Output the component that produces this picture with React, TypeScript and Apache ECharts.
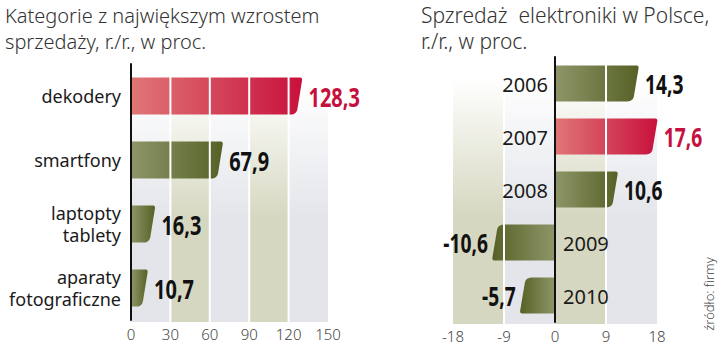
import React, { useEffect, useRef } from "react";
import * as echarts from "echarts";

// ---------- data ----------
const leftTitle = "Kategorie z największym wzrostem\nsprzedaży, r./r., w proc.";
const leftCategories = ["dekodery", "smartfony", "laptopty\ntablety", "aparaty\nfotograficzne"];
const leftValues = [128.3, 67.9, 16.3, 10.7];
const leftHighlight = [true, false, false, false];
const leftTicks = [0, 30, 60, 90, 120, 150];

const rightTitle = "Spzredaż  elektroniki w Polsce,\nr./r., w proc.";
const rightCategories = ["2006", "2007", "2008", "2009", "2010"];
const rightValues = [14.3, 17.6, 10.6, -10.6, -5.7];
const rightHighlight = [false, true, false, false, false];
const rightTicks = [-18, -9, 0, 9, 18];

const sourceText = "źródło: firmy";

// ---------- styles ----------
const LIGHT_BAND = "#e3e5ea";
const BEIGE_BAND = "#d6d7c0";
const leftBandColors = [LIGHT_BAND, BEIGE_BAND];
const rightBandColors = [BEIGE_BAND, LIGHT_BAND];
const RED_TEXT = "#c50f3d";
const SANS = "'Noto Sans', 'Open Sans', sans-serif";
const BOLD = "'Noto Sans', 'Roboto', sans-serif";

const fmt = (v: number) => v.toFixed(1).replace(".", ",");

function roundedPolygon(pts: number[][], radii: number[]) {
  const out: number[][] = [];
  const n = pts.length;
  for (let i = 0; i < n; i++) {
    const r = radii[i];
    const C = pts[i];
    if (!r) {
      out.push(C);
      continue;
    }
    const A = pts[(i - 1 + n) % n];
    const B = pts[(i + 1) % n];
    const da = Math.hypot(A[0] - C[0], A[1] - C[1]);
    const db = Math.hypot(B[0] - C[0], B[1] - C[1]);
    const ra = Math.min(r, da / 2);
    const rb = Math.min(r, db / 2);
    const Pin = [C[0] + ((A[0] - C[0]) / da) * ra, C[1] + ((A[1] - C[1]) / da) * ra];
    const Pout = [C[0] + ((B[0] - C[0]) / db) * rb, C[1] + ((B[1] - C[1]) / db) * rb];
    const steps = 6;
    for (let k = 0; k <= steps; k++) {
      const t = k / steps;
      const mt = 1 - t;
      out.push([
        mt * mt * Pin[0] + 2 * mt * t * C[0] + t * t * Pout[0],
        mt * mt * Pin[1] + 2 * mt * t * C[1] + t * t * Pout[1],
      ]);
    }
  }
  return out;
}

function barGradient(highlight: boolean, dir: number) {
  const stops = highlight
    ? [
        { offset: 0, color: "#e07676" },
        { offset: 1, color: "#c8113c" },
      ]
    : [
        { offset: 0, color: "#8e9669" },
        { offset: 1, color: "#566126" },
      ];
  return dir > 0
    ? new echarts.graphic.LinearGradient(0, 0, 1, 0, stops)
    : new echarts.graphic.LinearGradient(1, 0, 0, 0, stops);
}

function makeBands(ticks: number[]) {
  const arr: number[][] = [];
  for (let i = 0; i < ticks.length - 1; i++) arr.push([ticks[i], ticks[i + 1], 0, i]);
  return arr;
}

function bandSeries(ticks: number[], colors: string[], idx: number) {
  return {
    type: "custom",
    xAxisIndex: idx,
    yAxisIndex: idx,
    z: 1,
    silent: true,
    encode: { x: [0, 1], y: 2 },
    data: makeBands(ticks),
    renderItem: (params: any, api: any) => {
      const cs = params.coordSys;
      const a = api.coord([api.value(0), 0])[0];
      const b = api.coord([api.value(1), 0])[0];
      const color = colors[api.value(3) % 2];
      return {
        type: "rect",
        shape: { x: a, y: cs.y, width: b - a, height: cs.height + 2 },
        style: {
          fill: new echarts.graphic.LinearGradient(0, 0, 0, 1, [
            { offset: 0, color: "#ffffff" },
            { offset: 0.08, color: "#ffffff" },
            { offset: 0.6, color },
            { offset: 1, color },
          ]),
        },
      };
    },
  };
}

function lineSeries(ticks: number[], idx: number) {
  const inner = ticks.filter((t, i) => t !== 0 && i > 0 && i < ticks.length - 1);
  return {
    type: "custom",
    xAxisIndex: idx,
    yAxisIndex: idx,
    z: 3,
    silent: true,
    encode: { x: 0, y: 1 },
    data: inner.map((t) => [t, 0]),
    renderItem: (params: any, api: any) => {
      const cs = params.coordSys;
      const x = api.coord([api.value(0), 0])[0];
      return {
        type: "line",
        shape: { x1: x, y1: cs.y, x2: x, y2: cs.y + cs.height + 2 },
        style: { stroke: "#ffffff", lineWidth: 2 },
      };
    },
  };
}

function barSeries(values: number[], idx: number, ratio: number) {
  return {
    type: "custom",
    xAxisIndex: idx,
    yAxisIndex: idx,
    z: 2,
    silent: true,
    encode: { x: 0, y: 1 },
    data: values.map((v, i) => [v, i]),
    renderItem: (params: any, api: any) => {
      const v = api.value(0);
      const c = api.value(1);
      const p0 = api.coord([0, c]);
      const p1 = api.coord([v, c]);
      const h = api.size([0, 1])[1] * ratio;
      const dir = v >= 0 ? 1 : -1;
      const y0 = p0[1] - h / 2;
      const y1 = p0[1] + h / 2;
      const xe = p1[0];
      const xt = xe + 3;
      const xb = xe - 3;
      const x0 = p0[0];
      const pts = [
        [x0, y0],
        [xt, y0],
        [xb, y1],
        [x0, y1],
      ];
      const radii = dir > 0 ? [0, 3, 6, 0] : [0, 6, 3, 0];
      const highlight = (idx === 0 ? leftHighlight : rightHighlight)[c];
      return {
        type: "polygon",
        shape: { points: roundedPolygon(pts, radii) },
        style: { fill: barGradient(highlight, dir) },
      };
    },
  };
}

function labelSeries(values: number[], idx: number, cats: string[] | null) {
  return {
    type: "custom",
    xAxisIndex: idx,
    yAxisIndex: idx,
    z: 4,
    silent: true,
    encode: { x: 0, y: 1 },
    data: values.map((v, i) => [v, i]),
    renderItem: (params: any, api: any) => {
      const v = api.value(0);
      const c = api.value(1);
      const p0 = api.coord([0, c]);
      const p1 = api.coord([v, c]);
      const dir = v >= 0 ? 1 : -1;
      const highlight = (idx === 0 ? leftHighlight : rightHighlight)[c];
      const children: any[] = [];
      const lx = dir > 0 ? p1[0] + 9 : p1[0] - 7;
      const align = dir > 0 ? "left" : "right";
      children.push({
        type: "text",
        x: lx,
        y: p0[1] + 1,
        scaleX: 0.74,
        style: {
          text: fmt(v),
          fill: highlight ? RED_TEXT : "#111111",
          fontFamily: BOLD,
          fontWeight: "bold",
          fontSize: idx === 0 ? 27 : 26,
          align,
          textAlign: align,
          verticalAlign: "middle",
          textVerticalAlign: "middle",
        },
      });
      if (cats) {
        const cAlign = dir > 0 ? "right" : "left";
        children.push({
          type: "text",
          x: dir > 0 ? p0[0] - 7 : p0[0] + 8,
          y: p0[1] + 1,
          style: {
            text: cats[c],
            fill: "#1a1a1a",
            fontFamily: SANS,
            fontWeight: 400,
            fontSize: 20,
            align: cAlign,
            textAlign: cAlign,
            verticalAlign: "middle",
            textVerticalAlign: "middle",
          },
        });
      }
      return { type: "group", children };
    },
  };
}

export default function App() {
  const ref = useRef<HTMLDivElement>(null);
  useEffect(() => {
    if (!ref.current) return;
    const chart = echarts.init(ref.current, null, { renderer: "svg" });
    const tickLabel = {
      fontSize: 15,
      color: "#444",
      fontFamily: SANS,
      fontWeight: 300,
      margin: 6,
    };
    chart.setOption({
      animation: false,
      backgroundColor: "#ffffff",
      grid: [
        { left: 131, right: 392, top: 64, bottom: 25, containLabel: false },
        { left: 453, right: 63, top: 57, bottom: 23, containLabel: false },
      ],
      xAxis: [
        {
          gridIndex: 0,
          type: "value",
          min: leftTicks[0],
          max: leftTicks[leftTicks.length - 1],
          interval: leftTicks[1] - leftTicks[0],
          axisLine: { show: false },
          axisTick: { show: false },
          splitLine: { show: false },
          axisLabel: tickLabel,
        },
        {
          gridIndex: 1,
          type: "value",
          min: rightTicks[0],
          max: rightTicks[rightTicks.length - 1],
          interval: rightTicks[1] - rightTicks[0],
          axisLine: { show: false },
          axisTick: { show: false },
          splitLine: { show: false },
          axisLabel: tickLabel,
        },
      ],
      yAxis: [
        {
          gridIndex: 0,
          type: "category",
          inverse: true,
          data: leftCategories,
          axisLine: { show: true, onZero: true, lineStyle: { color: "#111", width: 2 } },
          axisTick: { show: false },
          z: 5,
          axisLabel: {
            fontSize: 18,
            lineHeight: 22,
            color: "#1a1a1a",
            fontFamily: SANS,
            fontWeight: 400,
            margin: 10,
          },
        },
        {
          gridIndex: 1,
          type: "category",
          inverse: true,
          data: rightCategories,
          axisLine: { show: true, onZero: true, lineStyle: { color: "#111", width: 2 } },
          axisTick: { show: false },
          axisLabel: { show: false },
          z: 5,
        },
      ],
      graphic: [
        {
          type: "text",
          left: 5,
          top: 2,
          style: {
            text: leftTitle,
            fontSize: 20,
            lineHeight: 26,
            fill: "#333",
            fontFamily: SANS,
            fontWeight: 300,
          },
        },
        {
          type: "text",
          left: 421,
          top: 2,
          style: {
            text: rightTitle,
            fontSize: 21,
            lineHeight: 26,
            fill: "#333",
            fontFamily: SANS,
            fontWeight: 300,
          },
        },
        {
          type: "text",
          x: 709,
          y: 294,
          rotation: Math.PI / 2,
          style: {
            text: sourceText,
            fontSize: 13,
            fill: "#444",
            fontFamily: SANS,
            fontWeight: 300,
            align: "center",
            textAlign: "center",
            verticalAlign: "middle",
            textVerticalAlign: "middle",
          },
        },
      ],
      series: [
        bandSeries(leftTicks, leftBandColors, 0),
        barSeries(leftValues, 0, 0.58),
        lineSeries(leftTicks, 0),
        labelSeries(leftValues, 0, null),
        bandSeries(rightTicks, rightBandColors, 1),
        barSeries(rightValues, 1, 0.68),
        lineSeries(rightTicks, 1),
        labelSeries(rightValues, 1, rightCategories),
      ],
    });
    return () => chart.dispose();
  }, []);
  return <div ref={ref} style={{ width: 720, height: 345, position: "absolute", left: 0, top: 0 }} />;
}
